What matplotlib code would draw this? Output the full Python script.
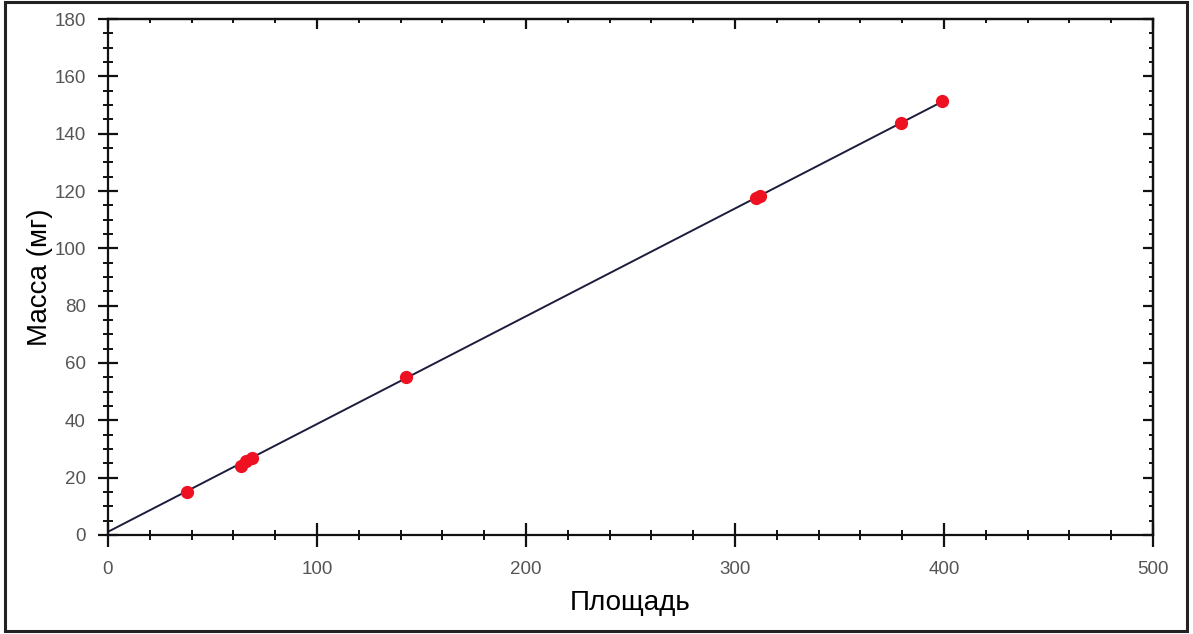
import numpy as np
import matplotlib
matplotlib.use("Agg")
import matplotlib.pyplot as plt
from matplotlib.patches import Rectangle
from matplotlib.ticker import MultipleLocator

plt.rcParams['font.family'] = ['Liberation Sans', 'DejaVu Sans']

# measured points (area vs mass)
area = [37.8, 63.6, 66.0, 69.0, 142.6, 310.0, 312.0, 379.4, 399.0]
mass = [15.0, 24.2, 25.8, 26.8, 55.0, 117.5, 118.2, 143.6, 151.3]

# calibration line
fit_slope = 0.376
fit_intercept = 1.1
fit_x = [0, 399]

fig = plt.figure(figsize=(11.93, 6.34), dpi=100)
ax = fig.add_axes([0.0905, 0.1562, 0.876, 0.8138])

fit_y = [fit_slope * v + fit_intercept for v in fit_x]
ax.plot(fit_x, fit_y, color='#1c1c3c', lw=1.4, zorder=2)
ax.plot(area, mass, 'o', color='#ee1122', ms=8.5, mec='#ee1122', zorder=3)

ax.set_xlim(0, 500)
ax.set_ylim(0, 180)
ax.xaxis.set_major_locator(MultipleLocator(100))
ax.xaxis.set_minor_locator(MultipleLocator(20))
ax.yaxis.set_major_locator(MultipleLocator(20))
ax.yaxis.set_minor_locator(MultipleLocator(5))

for s in ax.spines.values():
    s.set_linewidth(1.6)
    s.set_color('#111111')

ax.tick_params(which='both', direction='inout', colors='#111111',
               labelcolor='#555555', labelsize=13.5)
ax.tick_params(axis='x', which='major', length=17, width=1.6, pad=10)
ax.tick_params(axis='y', which='major', length=14, width=1.6, pad=9)
ax.tick_params(which='minor', length=7, width=1.4)

# top and right: inward ticks only
top = ax.secondary_xaxis('top')
top.xaxis.set_major_locator(MultipleLocator(100))
top.xaxis.set_minor_locator(MultipleLocator(20))
top.tick_params(which='both', direction='in', labeltop=False, colors='#111111')
top.tick_params(which='major', length=7, width=1.6)
top.tick_params(which='minor', length=3, width=1.4)
right = ax.secondary_yaxis('right')
right.yaxis.set_major_locator(MultipleLocator(20))
right.yaxis.set_minor_locator(MultipleLocator(5))
right.tick_params(which='both', direction='in', labelright=False, colors='#111111')
right.tick_params(which='major', length=7, width=1.6)
right.tick_params(which='minor', length=3, width=1.4)
for sec in (top, right):
    for s in sec.spines.values():
        s.set_linewidth(1.6)
        s.set_color('#111111')

ax.set_xlabel('Площадь', fontsize=20, labelpad=9)
ax.set_ylabel('Масса (мг)', fontsize=20, labelpad=1)

# outer frame
fig.patches.append(Rectangle((0.004, 0.004), 0.991, 0.993, transform=fig.transFigure,
                             fill=False, lw=2.2, ec='#222222'))

fig.savefig('out.png', dpi=100)
